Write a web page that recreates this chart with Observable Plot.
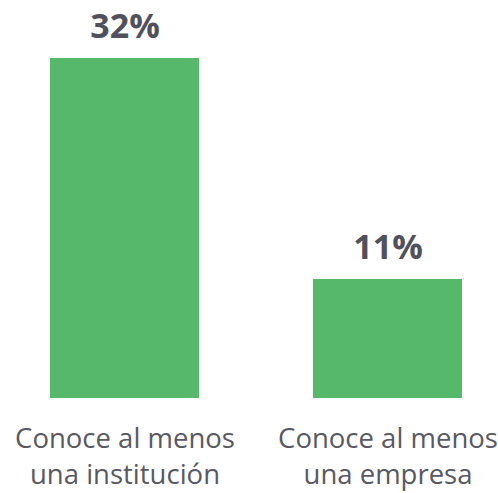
<!DOCTYPE html>
<html>
<head>
<meta charset="utf-8">
<script src="https://cdn.jsdelivr.net/npm/d3@7"></script>
<script src="https://cdn.jsdelivr.net/npm/@observablehq/plot@0.6"></script>
<style>
  html, body { margin: 0; padding: 0; background: #fff; }
</style>
</head>
<body>
<div id="chart"></div>
<script>
const categories = ["Conoce al menos\nuna institución", "Conoce al menos\nuna empresa"];
const values = [32, 11.2];
const valueLabels = ["32%", "11%"];

const data = categories.map((c, i) => ({category: c, value: values[i], label: valueLabels[i]}));

const chart = Plot.plot({
  width: 498,
  height: 493,
  marginTop: 0, marginBottom: 0, marginLeft: 0, marginRight: 0,
  style: {fontFamily: "'Open Sans', sans-serif", background: "#fff"},
  x: {domain: categories, range: [20, 492.5], paddingInner: 0.435, paddingOuter: 0.114, axis: null},
  y: {domain: [0, 32], range: [398, 58], axis: null},
  marks: [
    Plot.barY(data, {x: "category", y: "value", fill: "#55b86a"}),
    Plot.text(data, {x: "category", y: "value", text: "label", lineAnchor: "bottom", dy: -21,
      fontSize: 34, fontWeight: "bold", fill: "#50515c"}),
    Plot.text(data, {x: "category", y: () => 0, text: "category", lineAnchor: "bottom", dy: 85,
      lineHeight: 1.3, fontSize: 27.5, fill: "#585962"})
  ]
});
document.getElementById("chart").appendChild(chart);
</script>
</body>
</html>
